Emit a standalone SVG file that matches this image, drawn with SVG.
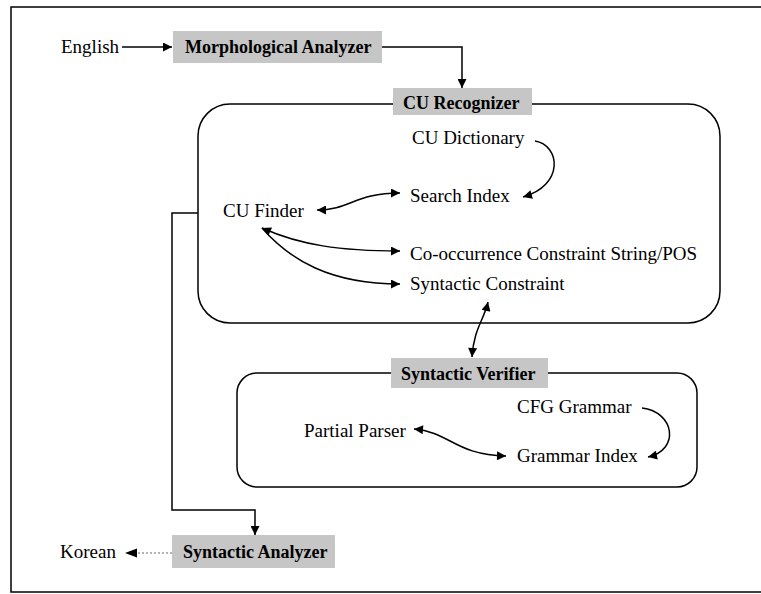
<svg xmlns="http://www.w3.org/2000/svg" width="761" height="594" viewBox="0 0 761 594">
<style>
text{font-family:"Liberation Serif","Times New Roman",serif;fill:#000}
.t{font-size:19px}
.b{font-size:18px;font-weight:bold}
.box{fill:#c6c6c6;stroke:none}
.frame{fill:none;stroke:#000;stroke-width:1.5}
.c{fill:none;stroke:#000;stroke-width:1.5}
.dot{fill:none;stroke:#666;stroke-width:1.2;stroke-dasharray:2 2}
</style>
<defs>
<marker id="ah" viewBox="0 0 10 10" refX="10" refY="5" markerWidth="12" markerHeight="9" markerUnits="userSpaceOnUse" orient="auto-start-reverse"><path d="M0,0 L10,5 L0,10 z" fill="#000"/></marker>
</defs>
<rect x="0" y="0" width="761" height="594" fill="#fff"/>
<rect x="11" y="7" width="770" height="585" class="frame"/>
<g id="cu-recognizer-group">
<rect x="198" y="104" width="522" height="219" rx="32" class="frame"/>
</g>
<g id="syntactic-verifier-group">
<rect x="237" y="373" width="460" height="114" rx="20" class="frame"/>
</g>
<g id="connectors">
<path class="c" d="M122,47 H172" marker-end="url(#ah)"/>
<path class="c" d="M382,47 H462 V88" marker-end="url(#ah)"/>
<path class="c" d="M535,141 C560,145 565,185 523,197" marker-end="url(#ah)"/>
<path class="c" d="M317,210 C350,210 355,193 400,193" marker-start="url(#ah)" marker-end="url(#ah)"/>
<path class="c" d="M262,228 C300,245 340,251 400,251" marker-start="url(#ah)" marker-end="url(#ah)"/>
<path class="c" d="M262,228 C290,260 330,284 400,284" marker-end="url(#ah)"/>
<path class="c" d="M488,302 C484,320 474,328 472,357" marker-start="url(#ah)" marker-end="url(#ah)"/>
<path class="c" d="M642,408 C675,412 680,450 648,457" marker-end="url(#ah)"/>
<path class="c" d="M414,429 C450,432 455,455 506,456" marker-start="url(#ah)" marker-end="url(#ah)"/>
<path class="c" d="M198,213 H172 V510 H255 V535" marker-end="url(#ah)"/>
<path class="dot" d="M172,553 H130"/>
<path d="M125,553 L137,548.5 L137,557.5 z" fill="#000"/>
</g>
<g id="english"><text class="t" x="61" y="53">English</text></g>
<g id="morphological-analyzer">
<rect class="box" x="173" y="31" width="209" height="32"/>
<text class="b" x="185" y="53">Morphological Analyzer</text>
</g>
<g id="cu-recognizer">
<rect class="box" x="393" y="88" width="139" height="27"/>
<text class="b" x="403" y="109">CU Recognizer</text>
</g>
<g id="cu-dictionary"><text class="t" x="412" y="144">CU Dictionary</text></g>
<g id="search-index"><text class="t" x="410" y="202">Search Index</text></g>
<g id="cu-finder"><text class="t" x="223" y="217">CU Finder</text></g>
<g id="co-occurrence"><text class="t" x="410" y="260">Co-occurrence Constraint String/POS</text></g>
<g id="syntactic-constraint"><text class="t" x="410" y="290">Syntactic Constraint</text></g>
<g id="syntactic-verifier">
<rect class="box" x="391" y="358" width="157" height="30"/>
<text class="b" x="401" y="380">Syntactic Verifier</text>
</g>
<g id="cfg-grammar"><text class="t" x="517" y="413">CFG Grammar</text></g>
<g id="partial-parser"><text class="t" x="304" y="437">Partial Parser</text></g>
<g id="grammar-index"><text class="t" x="517" y="462">Grammar Index</text></g>
<g id="syntactic-analyzer">
<rect class="box" x="172" y="535" width="163" height="33"/>
<text class="b" x="183" y="558">Syntactic Analyzer</text>
</g>
<g id="korean"><text class="t" x="60" y="558">Korean</text></g>
</svg>
